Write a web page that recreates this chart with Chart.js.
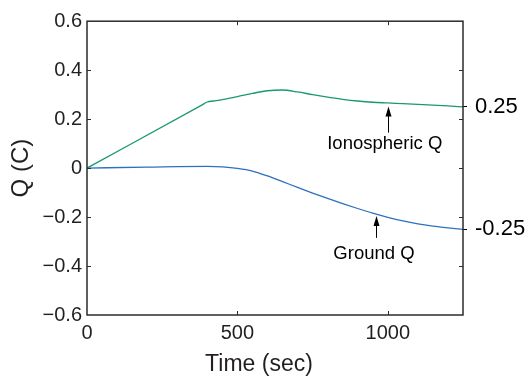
<!DOCTYPE html>
<html>
<head>
<meta charset="utf-8">
<script src="https://cdn.jsdelivr.net/npm/chart.js@4.4.1/dist/chart.umd.min.js"></script>
<style>
  html, body { margin: 0; padding: 0; background: #fff; }
  #wrap { width: 528px; height: 380px; }
</style>
</head>
<body>
<div id="wrap"><canvas id="chart" width="528" height="380"></canvas></div>
<script>
// charge on the ionosphere and on the ground, in coulombs, over time in seconds
const ionoTime = [0, 380, 400, 420, 450, 500, 550, 600, 650, 700, 750, 800, 850, 900, 950, 1000, 1050, 1100, 1150, 1200, 1250];
const ionoCharge = [0, 0.256, 0.270, 0.274, 0.280, 0.292, 0.305, 0.316, 0.319, 0.311, 0.300, 0.290, 0.281, 0.274, 0.269, 0.266, 0.263, 0.260, 0.257, 0.254, 0.25];

const groundTime = [0, 200, 400, 450, 500, 550, 600, 650, 700, 750, 800, 850, 900, 950, 1000, 1050, 1100, 1150, 1200, 1250];
const groundCharge = [0, 0.004, 0.007, 0.005, -0.001, -0.012, -0.032, -0.055, -0.079, -0.102, -0.124, -0.145, -0.165, -0.184, -0.201, -0.216, -0.228, -0.237, -0.244, -0.25];

const xTicks = [0, 500, 1000];
const yTicks = [-0.6, -0.4, -0.2, 0, 0.2, 0.4, 0.6];
// final values, marked on the right-hand axis
const endValues = [ionoCharge[ionoCharge.length - 1], groundCharge[groundCharge.length - 1]];

const FONT = '"Liberation Sans", Arial, Helvetica, sans-serif';
const INK = '#231f20';

const toPoints = (xs, ys) => xs.map((x, i) => ({ x: x, y: ys[i] }));
const fmtY = v => v === 0 ? '0' : (v < 0 ? '\u2212' : '') + Math.abs(v).toFixed(1);

// box around the axes, inward ticks on every side, arrows and notes
const framePlugin = {
  id: 'frame',
  afterDatasetsDraw(chart) {
    const { ctx, chartArea: a, scales } = chart;
    const x = scales.x, y = scales.y;
    ctx.save();
    ctx.strokeStyle = '#2b2b2b';
    ctx.lineWidth = 1.5;
    ctx.strokeRect(a.left, a.top, a.right - a.left, a.bottom - a.top);

    ctx.lineWidth = 1;
    const tl = 4;
    ctx.beginPath();
    yTicks.forEach(v => {
      if (v === y.min || v === y.max) return;
      const py = Math.round(y.getPixelForValue(v)) + 0.5;
      ctx.moveTo(a.left, py); ctx.lineTo(a.left + tl, py);
      ctx.moveTo(a.right, py); ctx.lineTo(a.right - tl, py);
    });
    xTicks.forEach(v => {
      if (v === x.min || v === x.max) return;
      const px = Math.round(x.getPixelForValue(v)) + 0.5;
      ctx.moveTo(px, a.bottom); ctx.lineTo(px, a.bottom - tl);
      ctx.moveTo(px, a.top); ctx.lineTo(px, a.top + tl);
    });
    ctx.stroke();

    // annotation arrows pointing up at each curve
    const notes = [
      { text: 'Ionospheric Q', x: 1000, tip: 0.252, tail: 0.145, label: 0.098, lx: 990 },
      { text: 'Ground Q', x: 961, tip: -0.196, tail: -0.285, label: -0.349, lx: 954 }
    ];
    ctx.fillStyle = '#000';
    ctx.strokeStyle = '#000';
    notes.forEach(n => {
      const px = Math.round(x.getPixelForValue(n.x)) + 0.5;
      const tipY = y.getPixelForValue(n.tip);
      const tailY = y.getPixelForValue(n.tail);
      ctx.beginPath();
      ctx.moveTo(px, tailY); ctx.lineTo(px, tipY + 8);
      ctx.stroke();
      ctx.beginPath();
      ctx.moveTo(px, tipY);
      ctx.lineTo(px - 3, tipY + 10);
      ctx.lineTo(px + 3, tipY + 10);
      ctx.closePath();
      ctx.fill();
      ctx.font = '18.5px ' + FONT;
      ctx.textAlign = 'center';
      ctx.textBaseline = 'middle';
      ctx.fillText(n.text, x.getPixelForValue(n.lx), y.getPixelForValue(n.label));
    });

    // x-axis title
    ctx.fillStyle = INK;
    ctx.font = '23px ' + FONT;
    ctx.textAlign = 'center';
    ctx.textBaseline = 'alphabetic';
    ctx.fillText('Time (sec)', (a.left + a.right) / 2 - 16, 371);
    ctx.restore();
  }
};

const ctx = document.getElementById('chart').getContext('2d');
new Chart(ctx, {
  type: 'line',
  data: {
    datasets: [
      {
        label: 'Ionospheric Q',
        data: toPoints(ionoTime, ionoCharge),
        borderColor: '#1a9a68',
        borderWidth: 1.3,
        pointRadius: 0,
        cubicInterpolationMode: 'monotone',
        yAxisID: 'y'
      },
      {
        label: 'Ground Q',
        data: toPoints(groundTime, groundCharge),
        borderColor: '#2d70bf',
        borderWidth: 1.3,
        pointRadius: 0,
        cubicInterpolationMode: 'monotone',
        yAxisID: 'y'
      }
    ]
  },
  options: {
    responsive: false,
    animation: false,
    layout: { padding: { top: 17, left: 0, right: 0, bottom: 0 } },
    plugins: {
      legend: { display: false },
      tooltip: { enabled: false }
    },
    scales: {
      x: {
        type: 'linear',
        min: 0,
        max: 1250,
        afterBuildTicks: s => { s.ticks = xTicks.map(v => ({ value: v })); },
        afterFit: s => { s.height = 65; },
        grid: { display: false, drawTicks: false },
        border: { display: false },
        ticks: {
          padding: 6,
          autoSkip: false,
          maxRotation: 0,
          color: INK,
          font: { family: FONT, size: 20 },
          callback: v => String(v)
        }
      },
      y: {
        min: -0.6,
        max: 0.6,
        afterBuildTicks: s => { s.ticks = yTicks.map(v => ({ value: v })); },
        afterFit: s => { s.width = 87; },
        grid: { display: false, drawTicks: false },
        border: { display: false },
        ticks: {
          padding: 5,
          color: INK,
          font: { family: FONT, size: 20 },
          callback: v => fmtY(v)
        },
        title: {
          display: true,
          text: 'Q (C)',
          color: INK,
          font: { family: FONT, size: 24 },
          padding: { top: 7, bottom: 0 }
        }
      },
      y2: {
        position: 'right',
        min: -0.6,
        max: 0.6,
        afterBuildTicks: s => { s.ticks = endValues.map(v => ({ value: v })); },
        afterFit: s => { s.width = 65; },
        grid: { drawOnChartArea: false, drawTicks: true, tickLength: 4, color: '#000', lineWidth: 1 },
        border: { display: false },
        ticks: {
          padding: 8,
          color: '#000',
          font: { family: FONT, size: 22 },
          callback: v => v.toFixed(2)
        }
      }
    }
  },
  plugins: [framePlugin]
});
</script>
</body>
</html>
